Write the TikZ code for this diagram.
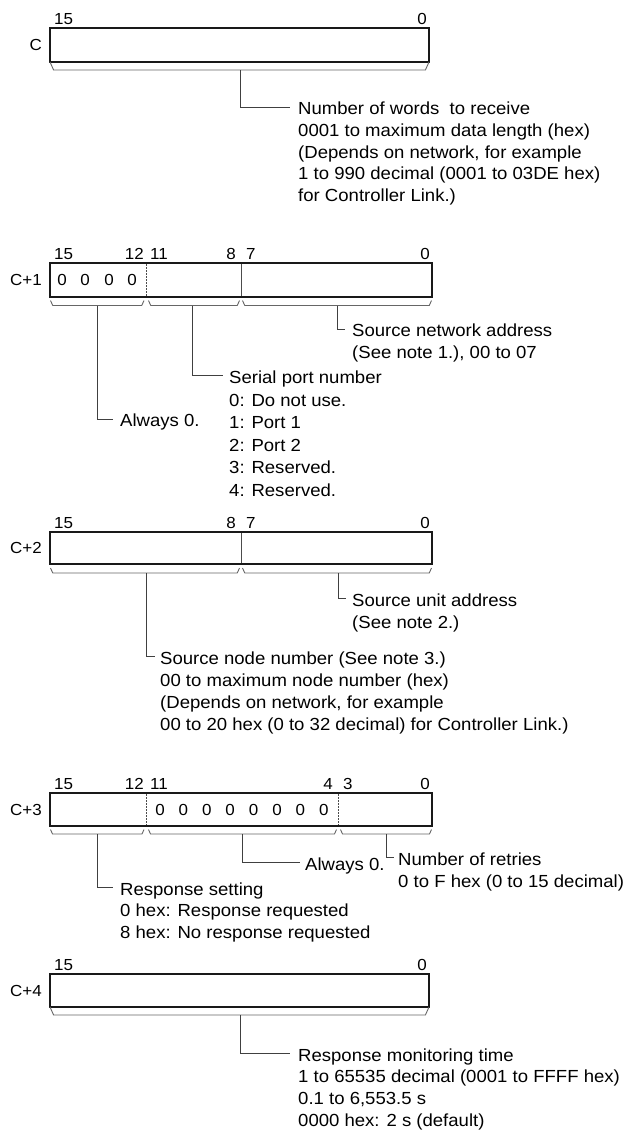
\documentclass[tikz,border=0pt]{standalone}
\usepackage{fontspec}
\setmainfont[FakeStretch=1.06]{Liberation Sans}
\newcommand\fs{\rule{0pt}{13pt}}
\newcommand\brkt[4]{\draw[brk] (#1,#3) -- ({#1+0.45*(#4-#3)},#4) -- ({#2-0.45*(#4-#3)},#4) -- (#2,#3);}
\begin{document}
\begin{tikzpicture}[x=1pt,y=-1pt,
  box/.style={draw=black!90,line width=1.6pt},
  divl/.style={draw=black!70,line width=0.9pt},
  dotl/.style={draw=black!70,line width=0.9pt,dash pattern=on 1.5pt off 1.5pt},
  brk/.style={draw=black!60,line width=0.9pt},
  conn/.style={draw=black!75,line width=0.9pt},
  txt/.style={inner sep=0pt,anchor=north west,align=left,font=\fontsize{17.5}{#1}\selectfont},
  txt/.default=21.8,
  bit/.style={inner sep=0pt,font=\fontsize{16}{16}\selectfont},
  rowl/.style={inner sep=0pt,anchor=east,font=\fontsize{16}{16}\selectfont},
  zero/.style={inner sep=0pt,font=\fontsize{16}{16}\selectfont}]
\useasboundingbox (0,0) rectangle (627,1133);

% ---------------- C ----------------
\draw[box] (50,28) rectangle (429,62);
\node[rowl] (rC) at (42,45) {C};
\node[bit,anchor=south west] (c15) at (54,25) {15};
\node[bit,anchor=south east] (c0) at (427,25) {0};
\brkt{50}{429}{62}{70}
\coordinate (bC) at (240,70);
\coordinate (kC) at (290,107);
\node[txt=21.8] (tC) at (298,101.25) {\fs Number of words\ \ to receive\\0001 to maximum data length (hex)\\(Depends on network, for example\\1 to 990 decimal (0001 to 03DE hex)\\for Controller Link.)};
\draw[conn] (bC) |- (kC);

% ---------------- C+1 ----------------
\draw[box] (50,263) rectangle (432,297);
\draw[dotl] (146.5,264) -- (146.5,296);
\draw[divl] (241,264) -- (241,296);
\node[rowl] (r1) at (42,280) {C+1};
\node[bit,anchor=south west] (a15) at (54,260) {15};
\node[bit,anchor=south east] (a12) at (144,260) {12};
\node[bit,anchor=south west] (a11) at (150,260) {11};
\node[bit,anchor=south east] (a8) at (236,260) {8};
\node[bit,anchor=south west] (a7) at (246,260) {7};
\node[bit,anchor=south east] (a0) at (430,260) {0};
\foreach \x/\n in {62/1,85/2,109/3,132/4} \node[zero] (z1\n) at (\x,280) {0};
\brkt{50.5}{144}{300.5}{305.5}
\brkt{148.5}{239.5}{300.5}{305.5}
\brkt{242.5}{431.5}{300.5}{305.5}
\coordinate (b1a) at (97,305.5);
\coordinate (k1a) at (113,419);
\node[txt] (t1a) at (120,413.25) {\fs Always 0.};
\draw[conn] (b1a) |- (k1a);
\coordinate (b1b) at (192,305.5);
\coordinate (k1b) at (223,375);
\node[txt=22.6] (t1b) at (229,370.25) {\fs Serial port number\\0: Do not use.\\1: Port 1\\2: Port 2\\3: Reserved.\\4: Reserved.};
\draw[conn] (b1b) |- (k1b);
\coordinate (b1c) at (337,305.5);
\coordinate (k1c) at (345,329);
\node[txt=22] (t1c) at (352,323.75) {\fs Source network address\\(See note 1.), 00 to 07};
\draw[conn] (b1c) |- (k1c);

% ---------------- C+2 ----------------
\draw[box] (50,532) rectangle (432,564);
\draw[divl] (241,533) -- (241,563);
\node[rowl] (r2) at (42,548) {C+2};
\node[bit,anchor=south west] (b15) at (54,529) {15};
\node[bit,anchor=south east] (b8) at (236,529) {8};
\node[bit,anchor=south west] (b7) at (246,529) {7};
\node[bit,anchor=south east] (b0) at (430,529) {0};
\brkt{50.5}{239.5}{568}{573}
\brkt{242.5}{431.5}{568}{573}
\coordinate (b2a) at (146,573);
\coordinate (k2a) at (155,656);
\node[txt=22] (t2a) at (160,651) {\fs Source node number (See note 3.)\\00 to maximum node number (hex)\\(Depends on network, for example\\00 to 20 hex (0 to 32 decimal) for Controller Link.)};
\draw[conn] (b2a) |- (k2a);
\coordinate (b2b) at (338,573);
\coordinate (k2b) at (346,598);
\node[txt=22] (t2b) at (352,593) {\fs Source unit address\\(See note 2.)};
\draw[conn] (b2b) |- (k2b);

% ---------------- C+3 ----------------
\draw[box] (50,793) rectangle (432,826);
\draw[dotl] (146.5,794) -- (146.5,825);
\draw[dotl] (338.5,794) -- (338.5,825);
\node[rowl] (r3) at (42,809.5) {C+3};
\node[bit,anchor=south west] (d15) at (54,790) {15};
\node[bit,anchor=south east] (d12) at (144,790) {12};
\node[bit,anchor=south west] (d11) at (150,790) {11};
\node[bit,anchor=south east] (d4) at (333,790) {4};
\node[bit,anchor=south west] (d3) at (343,790) {3};
\node[bit,anchor=south east] (d0) at (430,790) {0};
\foreach \i in {0,...,7} \node[zero] (z3\i) at ({160+23.4*\i},809.5) {0};
\brkt{50.5}{144}{829.5}{834}
\brkt{148.5}{336.5}{829.5}{834}
\brkt{340.5}{431.5}{829.5}{834}
\coordinate (b3a) at (97,834);
\coordinate (k3a) at (113,887);
\node[txt=21.7] (t3a) at (120,882) {\fs Response setting\\0 hex: Response requested\\8 hex: No response requested};
\draw[conn] (b3a) |- (k3a);
\coordinate (b3b) at (242,834);
\coordinate (k3b) at (300,862);
\node[txt] (t3b) at (305,857) {\fs Always 0.};
\draw[conn] (b3b) |- (k3b);
\coordinate (b3c) at (386,834);
\coordinate (k3c) at (394,857);
\node[txt=22] (t3c) at (398,852) {\fs Number of retries\\0 to F hex (0 to 15 decimal)};
\draw[conn] (b3c) |- (k3c);

% ---------------- C+4 ----------------
\draw[box] (50,974) rectangle (429,1007);
\node[rowl] (r4) at (42,990.5) {C+4};
\node[bit,anchor=south west] (e15) at (54,971) {15};
\node[bit,anchor=south east] (e0) at (427,971) {0};
\brkt{50}{429}{1007}{1015}
\coordinate (b4) at (240,1015);
\coordinate (k4) at (290,1053);
\node[txt=21.7] (t4) at (298,1048) {\fs Response monitoring time\\1 to 65535 decimal (0001 to FFFF hex)\\0.1 to 6,553.5 s\\0000 hex: 2 s (default)};
\draw[conn] (b4) |- (k4);
\end{tikzpicture}
\end{document}
